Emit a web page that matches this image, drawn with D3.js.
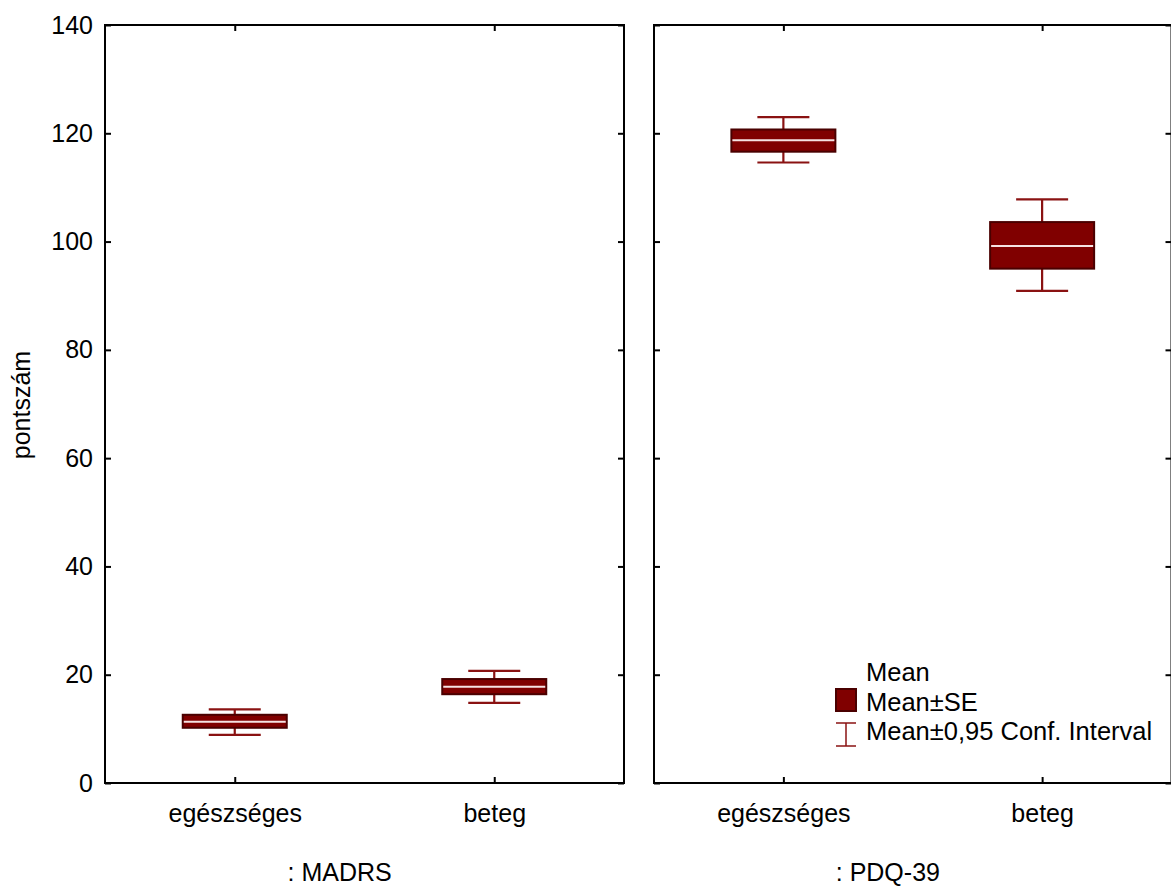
<!DOCTYPE html>
<html>
<head>
<meta charset="utf-8">
<script src="https://cdn.jsdelivr.net/npm/d3@7"></script>
<style>
  html, body { margin: 0; padding: 0; background: #fff; }
  svg { display: block; font-family: "Liberation Sans", Arial, sans-serif; }
</style>
</head>
<body>
<svg id="chart" width="1171" height="886"></svg>
<script>
// Groups and scales
const categories = ["egészséges", "beteg"];
const panels = [": MADRS", ": PDQ-39"];
const yTicks = [0, 20, 40, 60, 80, 100, 120, 140];

// Per-panel statistics, one entry per category
const means    = [[11.3, 17.8], [118.7, 99.2]];
const seLow    = [[10.2, 16.4], [116.6, 95.0]];
const seHigh   = [[12.6, 19.2], [120.7, 103.6]];
const ciLow    = [[8.9, 14.8],  [114.6, 90.9]];
const ciHigh   = [[13.6, 20.7], [123.0, 107.8]];

const legendLabels = ["Mean", "Mean±SE", "Mean±0,95 Conf. Interval"];

const svg = d3.select("#chart");
const plotTop = 25, plotBottom = 783;
const panelX = [[105, 624], [654, 1171.5]];
const boxW = 104, capW = 52;
const boxFill = "#800000", boxStroke = "#4a0000", whiskerColor = "#8a1212", meanColor = "#f6e2e2";
const fontSize = 25;
const legendFontSize = 25.5;

const y = d3.scaleLinear().domain([0, 140]).range([plotBottom, plotTop]);

panels.forEach((title, p) => {
  const [x0, x1] = panelX[p];
  const x = d3.scalePoint().domain(categories).range([x0, x1]).padding(0.5);
  const g = svg.append("g");

  // left axis (labels only on the first panel)
  const leftAxis = d3.axisLeft(y).tickValues(yTicks).tickSize(-6).tickPadding(12);
  if (p > 0) leftAxis.tickFormat("");
  g.append("g").attr("transform", `translate(${x0},0)`).call(leftAxis);
  g.append("g").attr("transform", `translate(${x1},0)`)
    .call(d3.axisRight(y).tickValues(yTicks).tickSize(-6).tickFormat(""));
  g.append("g").attr("transform", `translate(0,${plotTop})`)
    .call(d3.axisTop(x).tickSize(-6).tickFormat(""));
  g.append("g").attr("transform", `translate(0,${plotBottom})`)
    .call(d3.axisBottom(x).tickSize(-6).tickPadding(21));

  g.selectAll(".domain").remove();
  g.selectAll(".tick line").attr("stroke", "#000").attr("stroke-width", 2);
  g.selectAll(".tick text").attr("font-size", fontSize).attr("fill", "#000")
    .attr("font-family", "'Liberation Sans', Arial, sans-serif");

  // panel frame
  g.append("rect")
    .attr("x", x0).attr("y", plotTop)
    .attr("width", x1 - x0).attr("height", plotBottom - plotTop)
    .attr("fill", "none").attr("stroke", "#000").attr("stroke-width", 2);

  // boxes
  categories.forEach((c, i) => {
    const cx = x(c);
    const b = g.append("g");
    // whiskers
    [[ciHigh[p][i], seHigh[p][i]], [seLow[p][i], ciLow[p][i]]].forEach(([a, z]) => {
      b.append("line").attr("x1", cx).attr("x2", cx)
        .attr("y1", y(a)).attr("y2", y(z))
        .attr("stroke", whiskerColor).attr("stroke-width", 2.2);
    });
    [ciHigh[p][i], ciLow[p][i]].forEach(v => {
      b.append("line").attr("x1", cx - capW / 2).attr("x2", cx + capW / 2)
        .attr("y1", y(v)).attr("y2", y(v))
        .attr("stroke", whiskerColor).attr("stroke-width", 2.2);
    });
    b.append("rect")
      .attr("x", cx - boxW / 2).attr("y", y(seHigh[p][i]))
      .attr("width", boxW).attr("height", y(seLow[p][i]) - y(seHigh[p][i]))
      .attr("fill", boxFill).attr("stroke", boxStroke).attr("stroke-width", 2);
    b.append("line")
      .attr("x1", cx - boxW / 2 + 1).attr("x2", cx + boxW / 2 - 1)
      .attr("y1", y(means[p][i])).attr("y2", y(means[p][i]))
      .attr("stroke", meanColor).attr("stroke-width", 2);
  });

  // panel caption
  svg.append("text")
    .attr("x", (x0 + x1) / 2 - 77).attr("y", 881)
    .attr("font-size", fontSize).attr("fill", "#000")
    .text(title);
});

// y axis title
svg.append("text")
  .attr("transform", "translate(30,405) rotate(-90)")
  .attr("text-anchor", "middle")
  .attr("font-size", fontSize).attr("fill", "#000")
  .text("pontszám");

// legend
const lg = svg.append("g");
const lx = 866;
lg.selectAll("text").data(legendLabels).join("text")
  .attr("x", lx).attr("y", (d, i) => 681 + i * 29.5)
  .attr("font-size", legendFontSize).attr("fill", "#000")
  .text(d => d);
lg.append("rect").attr("x", 836).attr("y", 689).attr("width", 20).attr("height", 22)
  .attr("fill", boxFill).attr("stroke", boxStroke).attr("stroke-width", 2);
lg.append("line").attr("x1", 846).attr("x2", 846).attr("y1", 723).attr("y2", 746)
  .attr("stroke", whiskerColor).attr("stroke-width", 1.5);
[723, 746].forEach(v => lg.append("line").attr("x1", 836).attr("x2", 856)
  .attr("y1", v).attr("y2", v).attr("stroke", whiskerColor).attr("stroke-width", 1.5));
</script>
</body>
</html>
